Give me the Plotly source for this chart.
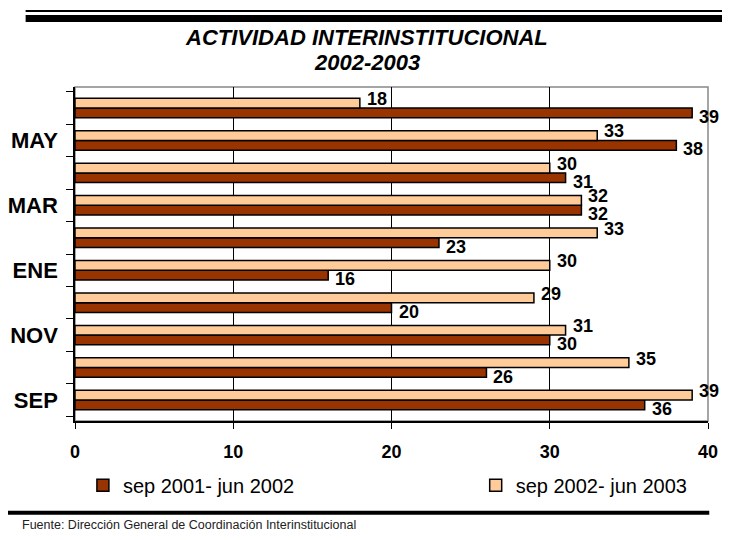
import plotly.graph_objects as go

# months, bottom to top
months = ["SEP", "OCT", "NOV", "DIC", "ENE", "FEB", "MAR", "ABR", "MAY", "JUN"]
month_labels = ["SEP", "", "NOV", "", "ENE", "", "MAR", "", "MAY", ""]
serie_0102 = [36, 26, 30, 20, 16, 23, 32, 31, 38, 39]
serie_0203 = [39, 35, 31, 29, 30, 33, 32, 30, 33, 18]

FONT = "Arial, Liberation Sans, sans-serif"
DARK = "#993300"
LIGHT = "#FFCC99"

fig = go.Figure()
fig.add_trace(go.Bar(
    y=months, x=serie_0102, orientation="h", name="sep 2001- jun 2002",
    marker=dict(color=DARK, line=dict(color="black", width=1.5)), legend="legend"))
fig.add_trace(go.Bar(
    y=months, x=serie_0203, orientation="h", name="sep 2002- jun 2003",
    marker=dict(color=LIGHT, line=dict(color="black", width=1.5)), legend="legend2"))

# ── value labels (light one above, dark one below) ────────────────────────────
for m, a, b in zip(months, serie_0102, serie_0203):
    fig.add_annotation(x=a, y=m, text=f"<b>{a}</b>", showarrow=False, xanchor="left",
                       xshift=5, yshift=-9, font=dict(family=FONT, size=18, color="black"))
    fig.add_annotation(x=b, y=m, text=f"<b>{b}</b>", showarrow=False, xanchor="left",
                       xshift=5, yshift=9, font=dict(family=FONT, size=18, color="black"))

# ── title and footnote ───────────────────────────────────────────────────────
fig.add_annotation(xref="paper", yref="paper", x=0.461, y=1.147, yanchor="middle",
                   text="<b><i>ACTIVIDAD INTERINSTITUCIONAL</i></b>", showarrow=False,
                   font=dict(family=FONT, size=22, color="black"))
fig.add_annotation(xref="paper", yref="paper", x=0.461, y=1.073, yanchor="middle",
                   text="<b><i>2002-2003</i></b>", showarrow=False,
                   font=dict(family=FONT, size=22, color="black"))
fig.add_annotation(xref="paper", yref="paper", x=-0.087, y=-0.312, xanchor="left",
                   yanchor="middle",
                   text="Fuente: Dirección General de Coordinación Interinstitucional",
                   showarrow=False, font=dict(family=FONT, size=12.5, color="#222"))

# ── decorative rules ─────────────────────────────────────────────────────────
fig.add_shape(type="line", xref="paper", yref="paper", x0=-0.078, x1=1.03,
              y0=1.2275, y1=1.2275, line=dict(color="black", width=2))
fig.add_shape(type="line", xref="paper", yref="paper", x0=-0.078, x1=1.03,
              y0=1.205, y1=1.205, line=dict(color="black", width=7))
fig.add_shape(type="line", xref="paper", yref="paper", x0=-0.12, x1=1.002,
              y0=-0.275, y1=-0.275, line=dict(color="black", width=4))
fig.add_shape(type="rect", xref="paper", yref="paper", x0=0, x1=1, y0=0, y1=1,
              line=dict(color="#888", width=1.5), layer="below")

legend_style = dict(orientation="h", y=-0.192, xanchor="left", yanchor="middle",
                    bgcolor="rgba(0,0,0,0)",
                    font=dict(family=FONT, size=20, color="black"))
# page body has an 8px margin: keep the page height within 540 px
fig.update_layout(
    width=722, height=524,
    margin=dict(l=67, r=15, t=79, b=111),
    paper_bgcolor="white", plot_bgcolor="white",
    barmode="group", bargap=0.4, bargroupgap=0,
    font=dict(family=FONT, color="black"),
    showlegend=True,
    legend=dict(x=0.0125, **legend_style),
    legend2=dict(x=0.633, **legend_style),
)
fig.update_xaxes(range=[0, 40], dtick=10, showgrid=True, gridcolor="black", gridwidth=1,
                 ticks="outside", ticklen=6, tickcolor="black", showline=True,
                 linecolor="black", linewidth=1.5, zeroline=False,
                 tickfont=dict(family=FONT, size=18, color="black"),
                 tickprefix="<b>", ticksuffix="</b>", ticklabelstandoff=8)
fig.update_yaxes(categoryorder="array", categoryarray=months, tickvals=months,
                 ticktext=[f"<b>{t}</b>" if t else "" for t in month_labels],
                 ticks="outside", tickson="boundaries", ticklen=7, tickcolor="black",
                 showline=True, linecolor="black", linewidth=1.5, showgrid=False,
                 ticklabelstandoff=11, automargin=False,
                 tickfont=dict(family=FONT, size=22, color="black"))

fig.write_html("out.html")
